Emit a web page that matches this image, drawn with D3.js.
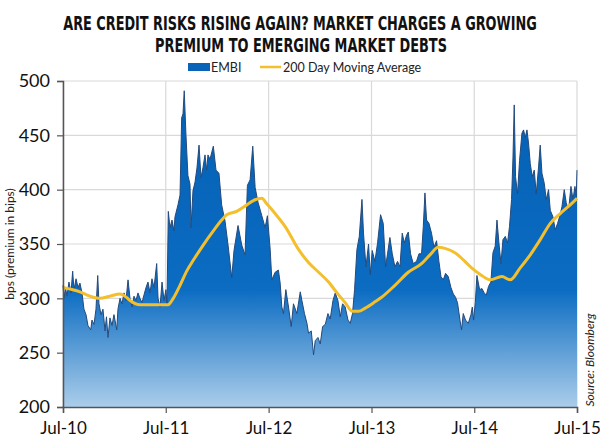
<!DOCTYPE html>
<html><head><meta charset="utf-8">
<script src="https://cdn.jsdelivr.net/npm/d3@7"></script>
<style>body{margin:0;background:#fff}svg{display:block}</style>
</head><body>
<script>
// EMBI spread (bps), dates as decimal years
const embiYears = [
2010.500,2010.510,2010.524,2010.539,2010.558,2010.578,2010.594,2010.607,2010.627,2010.646,
2010.665,2010.685,2010.704,2010.724,2010.743,2010.770,2010.782,2010.802,2010.821,2010.838,
2010.850,2010.870,2010.889,2010.909,2010.923,2010.938,2010.957,2010.977,2010.996,2011.023,
2011.035,2011.055,2011.074,2011.094,2011.113,2011.133,2011.152,2011.172,2011.191,2011.210,
2011.230,2011.249,2011.269,2011.288,2011.308,2011.327,2011.347,2011.366,2011.386,2011.412,
2011.425,2011.444,2011.464,2011.483,2011.502,2011.512,2011.525,
2011.541,2011.561,2011.580,2011.590,2011.619,2011.639,2011.655,2011.668,2011.680,2011.697,
2011.716,2011.736,2011.746,2011.765,2011.785,2011.804,2011.824,2011.843,2011.862,2011.882,
2011.898,2011.911,2011.931,2011.963,2011.989,2012.018,2012.044,2012.077,2012.106,2012.142,
2012.164,2012.203,2012.239,2012.271,2012.294,2012.320,2012.346,2012.369,2012.398,2012.434,
2012.466,2012.488,2012.515,
2012.531,2012.563,2012.595,2012.612,2012.628,2012.644,2012.667,2012.693,2012.719,2012.741,
2012.774,2012.807,2012.823,2012.848,2012.872,2012.887,2012.914,2012.936,2012.952,2012.979,
2013.001,2013.024,2013.050,2013.076,2013.098,2013.125,2013.147,2013.173,2013.196,2013.218,
2013.244,2013.271,2013.293,2013.315,2013.335,2013.358,2013.381,2013.407,2013.422,2013.446,
2013.471,2013.488,2013.507,2013.533,
2013.559,2013.588,2013.614,2013.637,2013.656,2013.679,2013.702,2013.728,2013.753,2013.777,
2013.799,2013.819,2013.841,2013.858,2013.880,2013.906,2013.938,2013.962,2013.987,2014.004,
2014.020,2014.036,2014.059,2014.084,2014.108,2014.133,2014.156,2014.176,2014.198,2014.221,
2014.247,2014.273,2014.296,2014.318,2014.337,2014.361,2014.376,2014.393,2014.415,2014.442,
2014.468,2014.481,2014.493,2014.510,2014.526,
2014.552,2014.575,2014.597,2014.617,2014.639,2014.662,2014.682,2014.704,2014.721,2014.740,
2014.760,2014.779,2014.802,2014.824,2014.843,2014.863,2014.877,2014.889,2014.902,2014.921,
2014.941,2014.964,2014.980,2014.996,2015.013,2015.028,2015.045,2015.064,2015.084,2015.103,
2015.126,2015.142,2015.159,2015.181,2015.201,2015.223,2015.240,2015.266,2015.288,2015.311,
2015.330,2015.353,2015.376,2015.395,2015.418,2015.441,2015.461,2015.480,2015.493,2015.500
];
const embiValues = [
312,300,310,302,315,305,325,308,318,310,
314,305,290,285,275,271,280,276,290,321,
295,285,290,270,283,264,282,275,285,271,
290,300,295,305,298,317,300,292,302,298,
305,300,296,303,310,315,305,318,310,332,
300,292,315,298,308,294,380,
365,372,362,375,386,395,466,470,491,450,
413,405,365,399,407,420,441,411,420,432,
418,432,428,440,418,415,386,371,349,319,
344,367,349,340,404,409,440,402,388,376,
365,376,345,
317,324,326,314,292,286,308,292,274,295,
286,306,298,286,277,268,270,248,261,264,
258,274,276,286,281,298,305,298,283,295,
292,280,277,286,308,345,357,391,360,329,
350,322,344,334,
351,377,369,329,341,356,341,329,334,329,
360,351,358,361,341,332,334,341,341,366,
397,372,369,360,347,353,334,320,317,323,
320,310,304,301,296,280,271,286,280,277,
285,292,280,296,321,
308,309,305,303,311,315,342,348,372,351,
332,354,357,351,366,391,430,478,412,396,
427,452,455,448,455,443,424,412,418,396,
421,441,415,406,391,400,381,375,363,369,
375,384,400,388,381,403,391,403,394,418
];
// 200 day moving average
const maYears = [
2010.500,2010.665,2010.763,2010.860,2010.957,2011.055,2011.103,2011.152,2011.249,2011.347,
2011.444,2011.522,2011.573,2011.639,2011.704,2011.768,2011.865,2011.963,2012.044,2012.093,
2012.190,2012.288,2012.352,2012.434,2012.482,2012.563,2012.661,2012.790,2012.887,2012.985,
2013.082,2013.164,2013.244,2013.315,2013.374,2013.439,2013.537,2013.598,2013.728,2013.858,
2013.987,2014.069,2014.150,2014.215,2014.312,2014.409,2014.474,2014.558,2014.656,2014.769,
2014.850,2014.947,2015.045,2015.142,2015.240,2015.337,2015.434,2015.500
];
const maValues = [
310,306,302,300,302,304,302,298,294,294,
294,294,300,312,325,335,349,362,372,377,
380,386,390,392,387,378,366,345,333,324,
315,305,296,288,288,291,297,301,312,324,
332,340,347,346,342,334,328,322,317,320,
317,328,340,354,369,378,386,392
];
const yTicks = [200,250,300,350,400,450,500];
const xTickYears = [2010.5,2011.5,2012.5,2013.5,2014.5,2015.5];
const xTickLabels = ["Jul-10","Jul-11","Jul-12","Jul-13","Jul-14","Jul-15"];
const seriesNames = ["EMBI","200 Day Moving Average"];
const titleLines = ["ARE CREDIT RISKS RISING AGAIN? MARKET CHARGES A GROWING","PREMIUM TO EMERGING MARKET DEBTS"];

function toDate(t){const y=Math.floor(t);const s=Date.UTC(y,0,1),e=Date.UTC(y+1,0,1);return new Date(s+(t-y)*(e-s));}

const W=600,H=442;
const svg=d3.select("body").append("svg").attr("width",W).attr("height",H);
const x=d3.scaleUtc().domain([toDate(2010.5),toDate(2015.5)]).range([63,577]);
const y=d3.scaleLinear().domain([200,500]).range([407,81]);

const defs=svg.append("defs");
const grad=defs.append("linearGradient").attr("id","g").attr("gradientUnits","userSpaceOnUse")
 .attr("x1",0).attr("x2",0).attr("y1",y(500)).attr("y2",y(200));
grad.append("stop").attr("offset","0").attr("stop-color","#0460b3");
grad.append("stop").attr("offset","0.64").attr("stop-color","#0b6cc2");
grad.append("stop").attr("offset","1").attr("stop-color","#abcdea");

// grid
svg.append("g").selectAll("line").data(yTicks).join("line")
 .attr("x1",63).attr("x2",577).attr("y1",d=>y(d)).attr("y2",d=>y(d))
 .attr("stroke","#d9d9d9").attr("stroke-width",1.2);
svg.append("g").selectAll("line").data(xTickYears).join("line")
 .attr("x1",d=>x(toDate(d))).attr("x2",d=>x(toDate(d))).attr("y1",81).attr("y2",407)
 .attr("stroke","#d9d9d9").attr("stroke-width",1.2);

const embi=embiYears.map((t,i)=>({d:toDate(t),v:embiValues[i]}));
const ma=maYears.map((t,i)=>({d:toDate(t),v:maValues[i]}));

svg.append("path").datum(embi)
 .attr("d",d3.area().x(d=>x(d.d)).y0(y(200)).y1(d=>y(d.v)))
 .attr("fill","url(#g)");
svg.append("path").datum(embi)
 .attr("d",d3.line().x(d=>x(d.d)).y(d=>y(d.v)))
 .attr("fill","none").attr("stroke","#244a7c").attr("stroke-width",1);
svg.append("path").datum(ma)
 .attr("d",d3.line().curve(d3.curveMonotoneX).x(d=>x(d.d)).y(d=>y(d.v)))
 .attr("fill","none").attr("stroke","#f3bf2c").attr("stroke-width",3).attr("stroke-linejoin","round");

// axes
const font="Lato, 'Open Sans', sans-serif";
const ya=svg.append("g").attr("transform","translate(63,0)")
 .call(d3.axisLeft(y).tickValues(yTicks).tickSize(6).tickPadding(7));
const xa=svg.append("g").attr("transform","translate(0,407)")
 .call(d3.axisBottom(x).tickValues(xTickYears.map(toDate)).tickFormat((d,i)=>xTickLabels[i]).tickSize(6).tickPadding(9));
[ya,xa].forEach(a=>{
 a.select(".domain").attr("stroke","#555").attr("stroke-width",1.5);
 a.selectAll(".tick line").attr("stroke","#555").attr("stroke-width",1.2);
 a.selectAll("text").attr("fill","#111").style("font-family",font).style("font-size","17px");
});
ya.selectAll("text").style("font-size","18px");

// y label
svg.append("text").attr("transform","translate(14,244) rotate(-90)").attr("text-anchor","middle")
 .style("font-family",font).style("font-size","12px").attr("fill","#222").text("bps (premium in bips)");
// source
svg.append("text").attr("transform","translate(594,360) rotate(-90)").attr("text-anchor","middle")
 .style("font-family",font).style("font-size","12px").style("font-style","italic").attr("fill","#222").text("Source: Bloomberg");

// title: condensed by horizontal scaling to the reference widths
const tf="'DejaVu Sans Condensed', 'DejaVu Sans', sans-serif";
const titleSpecs=[{cx:300,y:30,w:474},{cx:301,y:52,w:292}];
titleLines.forEach((t,i)=>{
 const sp=titleSpecs[i];
 const g=svg.append("g");
 const tx=g.append("text").attr("x",0).attr("y",0).attr("text-anchor","middle")
  .style("font-family",tf).style("font-weight","bold").style("font-size","19px").attr("fill","#111").text(t);
 const nat=tx.node().getComputedTextLength();
 g.attr("transform",`translate(${sp.cx},${sp.y}) scale(${sp.w/nat},1)`);
});

// legend
const lg=svg.append("g");
lg.append("rect").attr("x",188).attr("y",63).attr("width",22).attr("height",8).attr("fill","#0b63b8");
lg.append("text").attr("x",211).attr("y",72).style("font-family",font).style("font-size","12.5px").attr("fill","#222").text(seriesNames[0]);
lg.append("line").attr("x1",260).attr("x2",281).attr("y1",67).attr("y2",67).attr("stroke","#f3bf2c").attr("stroke-width",2.5);
lg.append("text").attr("x",283).attr("y",72).style("font-family",font).style("font-size","12.5px").attr("fill","#222").text(seriesNames[1]);
</script>
</body></html>
